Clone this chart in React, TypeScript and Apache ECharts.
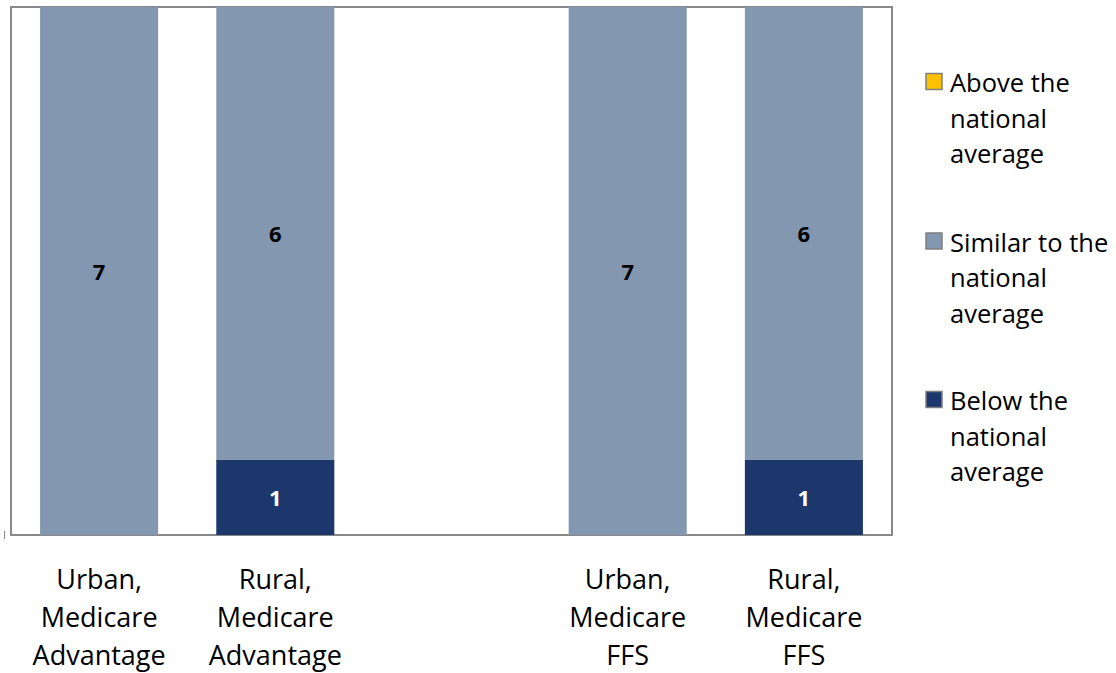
import React, { useEffect, useRef } from "react";
import * as echarts from "echarts";

const categories = [
  "Urban,\nMedicare\nAdvantage",
  "Rural,\nMedicare\nAdvantage",
  "",
  "Urban,\nMedicare\nFFS",
  "Rural,\nMedicare\nFFS",
];
const belowValues = [0, 1, null, 0, 1];
const similarValues = [7, 6, null, 7, 6];
const aboveValues = [0, 0, null, 0, 0];
const seriesNames = [
  "Above the\nnational\naverage",
  "Similar to the\nnational\naverage",
  "Below the\nnational\naverage",
];
const colors = { above: "#FFC000", similar: "#8497B0", below: "#1B376B" };

const FONT = "'Open Sans', 'Noto Sans', sans-serif";

export default function App() {
  const ref = useRef<HTMLDivElement>(null);
  useEffect(() => {
    if (!ref.current) return;
    const chart = echarts.init(ref.current, null, { renderer: "svg" });
    const legendColors = [colors.above, colors.similar, colors.below];
    const legendY = [82, 241.5, 400];
    const legendGraphics: any[] = [];
    seriesNames.forEach((name, i) => {
      legendGraphics.push({
        type: "rect",
        shape: { x: 926, y: legendY[i] - 8.5, width: 16, height: 16 },
        style: { fill: legendColors[i], stroke: "#7F7F7F", lineWidth: 1.5 },
      });
      legendGraphics.push({
        type: "text",
        x: 950,
        y: legendY[i] - 17.75,
        style: {
          text: name,
          font: `25.5px ${FONT}`,
          fill: "#000",
          lineHeight: 35.5,
          verticalAlign: "top",
        },
      });
    });
    legendGraphics.push({
      type: "line",
      shape: { x1: 4.5, y1: 531, x2: 4.5, y2: 539 },
      style: { stroke: "#888", lineWidth: 1 },
    });
    const labelOpt = (color: string) => ({
      show: true,
      position: "inside",
      color,
      fontFamily: FONT,
      fontWeight: "bold",
      fontSize: 22,
      formatter: (p: any) => (p.value ? String(p.value) : ""),
    });
    chart.setOption({
      animation: false,
      grid: {
        left: 11,
        right: 224,
        top: 7,
        bottom: 135.5,
        show: true,
        borderColor: "#888888",
        borderWidth: 2,
        backgroundColor: "transparent",
      },
      xAxis: {
        type: "category",
        data: categories,
        axisLine: { show: false },
        axisTick: { show: false },
        axisLabel: {
          interval: 0,
          color: "#000",
          fontFamily: FONT,
          fontSize: 27,
          lineHeight: 38,
          margin: 24,
        },
      },
      yAxis: {
        type: "value",
        min: 0,
        max: 7,
        show: false,
        splitLine: { show: false },
      },
      series: [
        {
          name: "Below",
          type: "bar",
          stack: "total",
          data: belowValues,
          barWidth: "67%",
          itemStyle: { color: colors.below },
          label: labelOpt("#FFFFFF"),
        },
        {
          name: "Similar",
          type: "bar",
          stack: "total",
          data: similarValues,
          barWidth: "67%",
          itemStyle: { color: colors.similar },
          label: labelOpt("#000000"),
        },
        {
          name: "Above",
          type: "bar",
          stack: "total",
          data: aboveValues,
          barWidth: "67%",
          itemStyle: { color: colors.above },
          label: { show: false },
        },
      ],
      graphic: legendGraphics,
    });
    return () => chart.dispose();
  }, []);
  return (
    <div
      ref={ref}
      style={{ position: "fixed", left: 0, top: 0, width: 1116, height: 673, background: "#fff" }}
    />
  );
}
